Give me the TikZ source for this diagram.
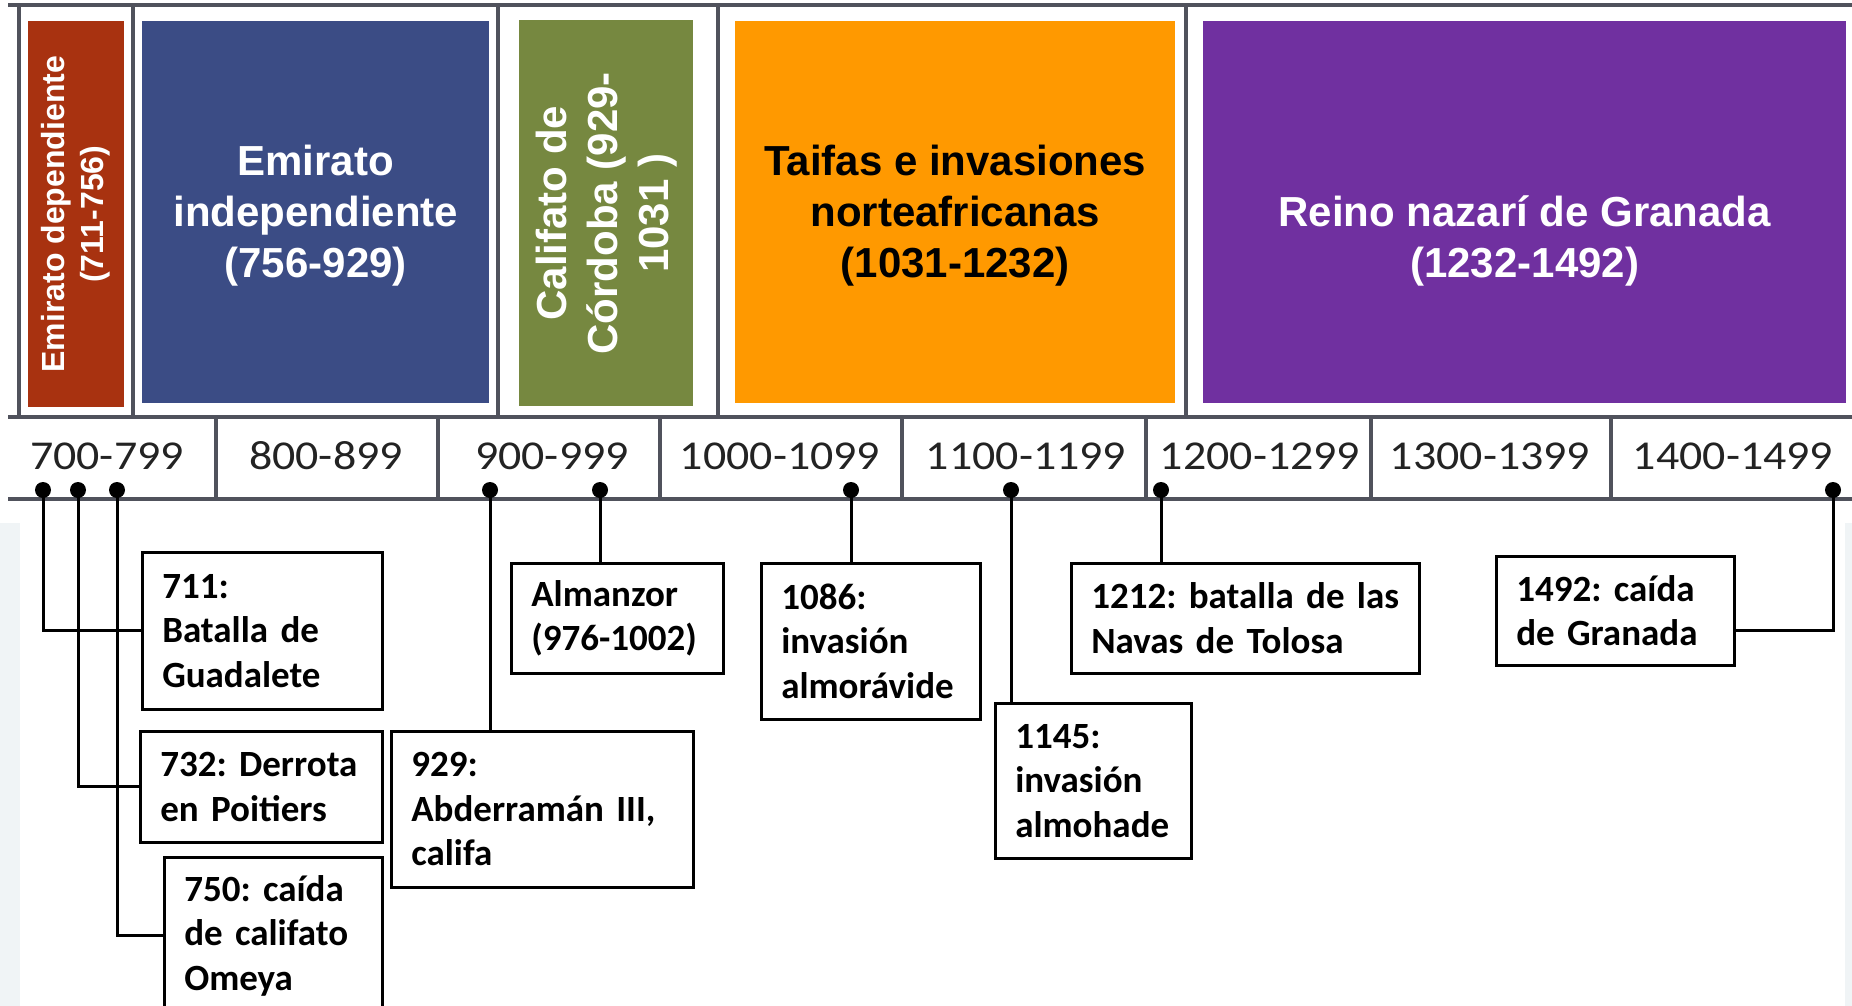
\documentclass[tikz,border=0pt]{standalone}
\usepackage{fontspec}
\setmainfont{Carlito}
\newfontfamily\arialfont{Liberation Sans}
\newfontfamily\labelfont[FakeStretch=1.12]{Carlito}
\usetikzlibrary{calc}
\definecolor{cred}{RGB}{168,50,16}
\definecolor{cblue}{RGB}{59,76,133}
\definecolor{cgreen}{RGB}{118,136,64}
\definecolor{corange}{RGB}{255,153,0}
\definecolor{cpurple}{RGB}{112,48,160}
\definecolor{framec}{RGB}{80,82,92}
\definecolor{stripc}{RGB}{240,244,246}
\definecolor{labgray}{RGB}{35,35,35}
\newcommand\myevfont{\bfseries\fontsize{37}{44.5}\selectfont\frenchspacing\hyphenpenalty=10000\relax}
\begin{document}
\frenchspacing
\begin{tikzpicture}[x=1pt,y=-1pt,
  perbox/.style={fill=#1, draw=none, inner sep=0, anchor=north west},
  ptext/.style={font=\arialfont\bfseries\fontsize{42}{51}\selectfont, align=center, inner sep=0},
  framel/.style={draw=framec, line width=3.5},
  lab/.style={font=\labelfont\fontsize{41}{49}\selectfont, text=labgray, inner sep=0},
  dot/.style={circle, fill=black, inner sep=0, minimum size=16},
  ev/.style={draw=black, line width=2.5, font=\myevfont,
    align=left, inner xsep=20, inner ysep=0, anchor=north west},
  conn/.style={draw=black, line width=3}]
\useasboundingbox (0,0) rectangle (1852,1006);
\clip (0,0) rectangle (1852,1006);
\fill[white] (0,0) rectangle (1852,1006);
\fill[stripc] (0,523) rectangle (20,1006);
\fill[stripc] (1845,523) rectangle (1852,1006);

% top frame
\draw[framel] (8,5) -- (1852,5);
\foreach \x in {19,133,498,718,1186} \draw[framel] (\x,5) -- (\x,417);
\draw[framel] (8,417) -- (1852,417);
\draw[framel, line width=4.5] (8,499) -- (1852,499);
\foreach \x in {216,438,660,902,1146,1371,1611} \draw[framel] (\x,417) -- (\x,499);

% period boxes
\node[perbox=cred, minimum width=96.5, minimum height=386] (pdep) at (27.5,21) {};
\node[perbox=cblue, minimum width=347, minimum height=382] (pind) at (142,21) {};
\node[perbox=cgreen, minimum width=174, minimum height=386] (pcal) at (519,20) {};
\node[perbox=corange, minimum width=440, minimum height=382] (ptai) at (735,21) {};
\node[perbox=cpurple, minimum width=643, minimum height=382] (pnaz) at (1203,21) {};

\node[ptext, text=white, rotate=90, font=\arialfont\bfseries\fontsize{32}{39}\selectfont] (tdep) at (pdep.center) {Emirato dependiente\\(711-756)};
\node[ptext, text=white] (tind) at ($(pind.center)+(0,3)$) {Emirato\\independiente\\(756-929)};
\node[ptext, text=white, rotate=90] (tcal) at (pcal.center) {Califato de\\Córdoba (929-\\1031 )};
\node[ptext, text=black] (ttai) at ($(ptai.center)+(0,3)$) {Taifas e invasiones\\norteafricanas\\(1031-1232)};
\node[ptext, text=white] (tnaz) at ($(pnaz.center)+(0,29)$) {Reino nazarí de Granada\\(1232-1492)};

% timeline labels
\node[lab] (c7) at (107,456) {700-799};
\node[lab] (c8) at (326,456) {800-899};
\node[lab] (c9) at (552,456) {900-999};
\node[lab] (c10) at (780,456) {1000-1099};
\node[lab] (c11) at (1026,456) {1100-1199};
\node[lab] (c12) at (1260,456) {1200-1299};
\node[lab] (c13) at (1490,456) {1300-1399};
\node[lab] (c14) at (1733,456) {1400-1499};

% event boxes
\node[ev, text width=200, minimum height=157] (b711) at (141,551) {711:\\Batalla de\\Guadalete};
\node[ev, text width=202, minimum height=111] (b732) at (139,730) {732: Derrota\\en Poitiers};
\node[ev, text width=178, minimum height=157] (b750) at (163,856) {750: caída\\de califato\\Omeya};
\node[ev, text width=262, minimum height=156] (b929) at (390,730) {929:\\Abderramán III,\\califa};
\node[ev, text width=172, minimum height=110] (balm) at (510,562) {Almanzor\\(976-1002)};
\node[ev, text width=179, minimum height=156] (b1086) at (760,562) {1086:\\invasión\\almorávide};
\node[ev, text width=156, minimum height=155] (b1145) at (994,702) {1145:\\invasión\\almohade};
\node[ev, text width=308, minimum height=110] (b1212) at (1070,562) {1212: batalla de las\\Navas de Tolosa};
\node[ev, text width=198, minimum height=109] (b1492) at (1495,555) {1492: caída\\de Granada};

% dots
\node[dot] (d1) at (43,490) {};
\node[dot] (d2) at (78,490) {};
\node[dot] (d3) at (117,490) {};
\node[dot] (d4) at (490,490) {};
\node[dot] (d5) at (600,490) {};
\node[dot] (d6) at (851,490) {};
\node[dot] (d7) at (1011,490) {};
\node[dot] (d8) at (1161,490) {};
\node[dot] (d9) at (1833,490) {};

% connectors
\draw[conn] (d1.center) |- (b711.west);
\draw[conn] (d2.center) |- (b732.west);
\draw[conn] (d3.center) |- (b750.west);
\draw[conn] (d4.center) -- (d4 |- b929.north);
\draw[conn] (d5.center) -- (d5 |- balm.north);
\draw[conn] (d6.center) -- (d6 |- b1086.north);
\draw[conn] (d7.center) -- (d7 |- b1145.north);
\draw[conn] (d8.center) -- (d8 |- b1212.north);
\draw[conn] (d9.center) |- ($(b1492.east)+(0,20)$);
\end{tikzpicture}
\end{document}
